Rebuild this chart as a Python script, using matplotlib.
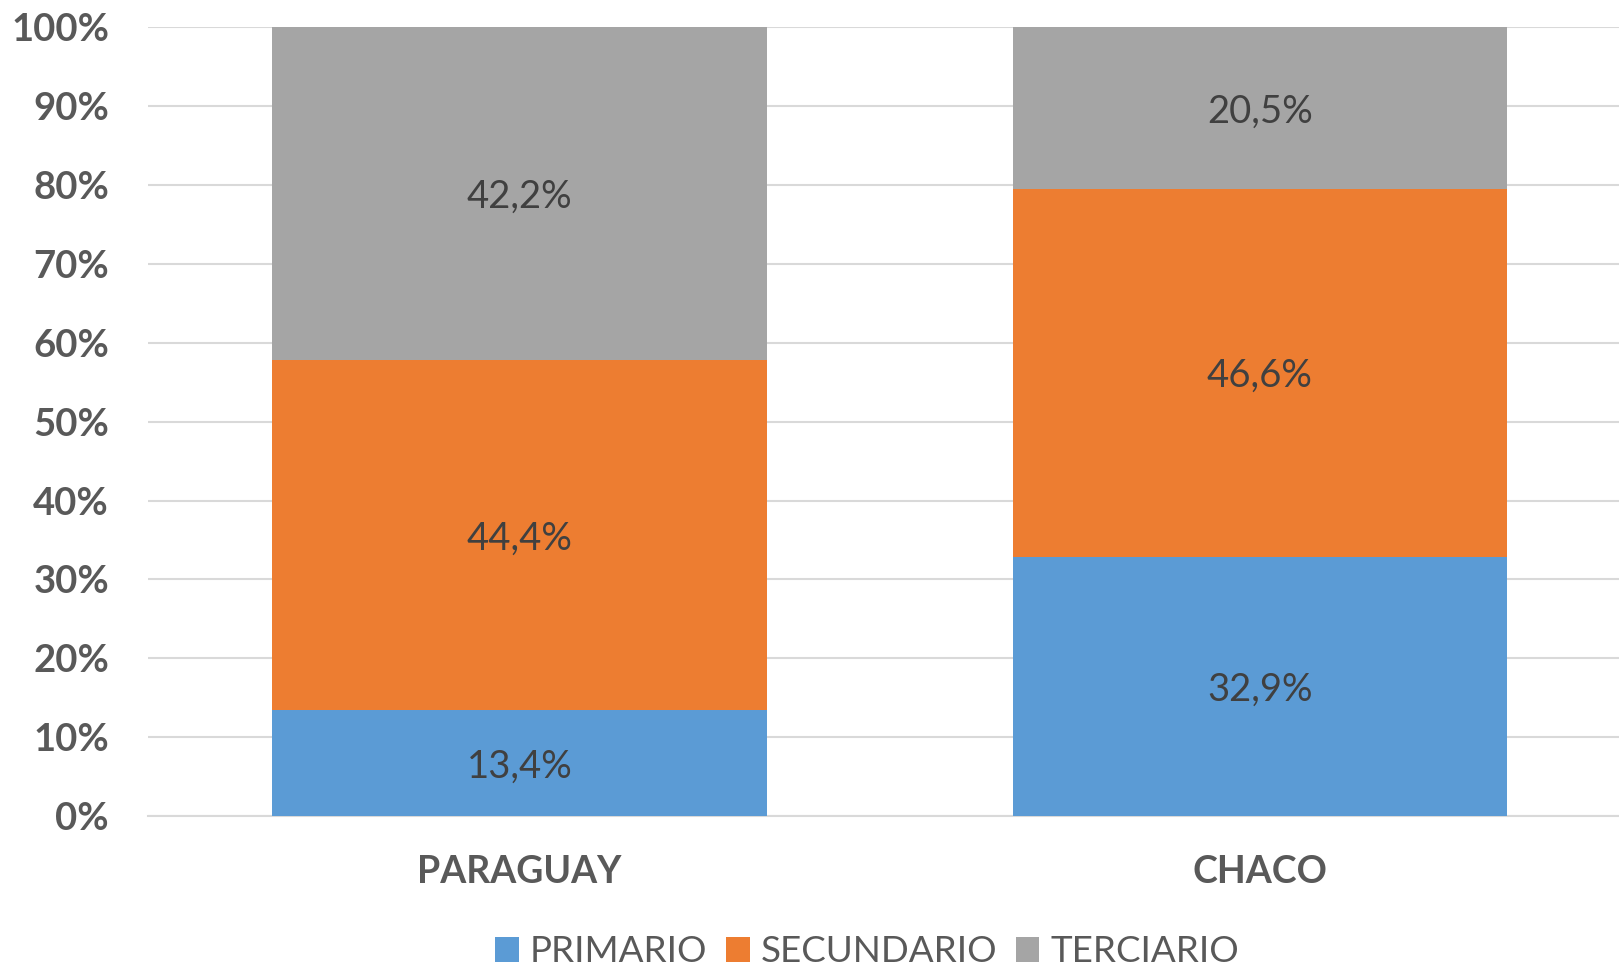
import matplotlib
matplotlib.use("Agg")
import matplotlib.pyplot as plt
import numpy as np

plt.rcParams['font.family'] = ['Lato', 'DejaVu Sans']

categories = ["PARAGUAY", "CHACO"]
series_names = ["PRIMARIO", "SECUNDARIO", "TERCIARIO"]
primario = [13.4, 32.9]
secundario = [44.4, 46.6]
terciario = [42.2, 20.5]
colors = ["#5B9BD5", "#ED7D31", "#A5A5A5"]

fig = plt.figure(figsize=(16.19, 9.67), dpi=100)
ax = fig.add_axes([0.0914, 0.156, 0.9086, 0.816])

x = np.arange(len(categories))
bottom = np.zeros(len(categories))
handles = []
for name, vals, c in zip(series_names, [primario, secundario, terciario], colors):
    vals = np.array(vals)
    b = ax.bar(x, vals, 0.668, bottom=bottom, color=c, label=name, zorder=2)
    handles.append(b)
    for xi, v, bt in zip(x, vals, bottom):
        ax.text(xi, bt + v / 2, f"{v:.1f}%".replace(".", ","), ha="center", va="center_baseline",
                fontsize=27.5, color="#404040", zorder=3)
    bottom += vals

ax.set_xlim(-0.502, 1.485)
ax.set_ylim(0, 100)
ax.set_yticks(np.arange(0, 101, 10))
ax.set_yticklabels([f"{v}%" for v in range(0, 101, 10)], fontsize=27.5, fontweight="bold", color="#595959")
ax.set_xticks(x)
ax.set_xticklabels(categories, fontsize=27, fontweight="bold", color="#595959")
ax.tick_params(axis="both", length=0)
ax.tick_params(axis="x", pad=28)
ax.tick_params(axis="y", pad=28)
ax.grid(axis="y", color="#D9D9D9", linewidth=1.5, zorder=0)
for s in ["top", "right", "left"]:
    ax.spines[s].set_visible(False)
ax.spines["bottom"].set_color("#D9D9D9")
ax.spines["bottom"].set_linewidth(1.5)
ax.spines["bottom"].set_zorder(1)

fig.legend(handles=handles, labels=series_names, loc="center", bbox_to_anchor=(867 / 1619, 1 - 952 / 967),
           ncol=3, frameon=False, fontsize=26.5, labelcolor="#595959", handlelength=0.65, handleheight=0.65,
           handletextpad=0.3, columnspacing=0.5)

fig.savefig("out.png", dpi=100)
